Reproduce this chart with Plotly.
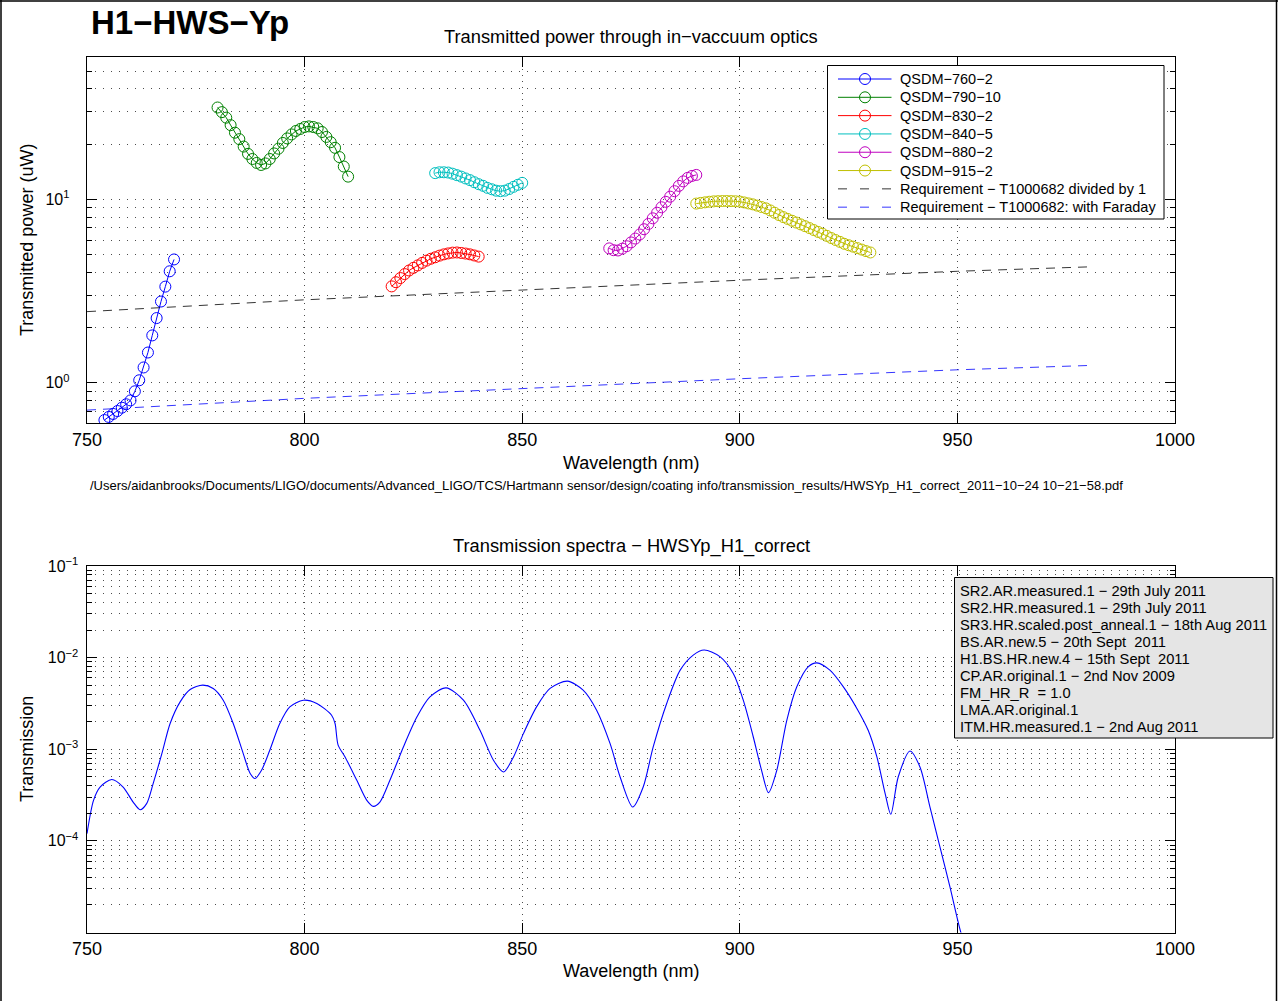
import math
import plotly.graph_objects as go

W, H = 1278, 1001

# ---------------- top panel: transmitted power (uW) ----------------
wl_760 = [754, 755, 756, 757, 758, 759, 760, 761, 762, 763, 764, 765, 766, 767, 768, 769, 770]
pw_760 = [0.625, 0.65, 0.675, 0.70, 0.73, 0.762, 0.80, 0.897, 1.03, 1.21, 1.46, 1.81, 2.25, 2.77, 3.34, 4.05, 4.70]

wl_790 = [780, 781, 782, 783, 784, 785, 786, 787, 788, 789, 790, 791, 792, 793, 794, 795,
          796, 797, 798, 799, 800, 801, 802, 803, 804, 805, 806, 807, 808, 809, 810]
pw_790 = [31.7, 29.9, 27.9, 25.4, 23.1, 21.3, 19.4, 17.7, 16.6, 15.8, 15.4, 15.7, 16.6, 17.8, 18.9, 20.3,
          21.5, 22.6, 23.6, 24.2, 24.8, 25.0, 24.8, 24.4, 23.3, 21.9, 20.5, 19.1, 17.0, 15.1, 13.3]

wl_830 = [820, 821, 822, 823, 824, 825, 826, 827, 828, 829, 830, 831, 832, 833, 834, 835, 836, 837, 838, 839, 840]
pw_830 = [3.35, 3.53, 3.72, 3.91, 4.09, 4.23, 4.36, 4.50, 4.63, 4.74, 4.83, 4.93, 5.01, 5.07, 5.12, 5.13,
          5.10, 5.06, 5.01, 4.94, 4.87]

wl_840 = [830, 831, 832, 833, 834, 835, 836, 837, 838, 839, 840, 841, 842, 843, 844, 845, 846, 847, 848, 849, 850]
pw_840 = [13.9, 14.05, 14.05, 14.0, 13.8, 13.55, 13.3, 13.0, 12.73, 12.4, 12.1, 11.85, 11.55, 11.35, 11.15,
          11.08, 11.15, 11.38, 11.7, 12.0, 12.3]

wl_880 = [870, 871, 872, 873, 874, 875, 876, 877, 878, 879, 880, 881, 882, 883, 884, 885, 886, 887, 888, 889, 890]
pw_880 = [5.40, 5.28, 5.26, 5.38, 5.55, 5.82, 6.11, 6.43, 6.87, 7.34, 7.88, 8.45, 9.05, 9.69, 10.34, 11.08,
          11.84, 12.53, 13.09, 13.42, 13.59]

wl_915 = [890, 891, 892, 893, 894, 895, 896, 897, 898, 899, 900, 901, 902, 903, 904, 905, 906, 907, 908, 909,
          910, 911, 912, 913, 914, 915, 916, 917, 918, 919, 920, 921, 922, 923, 924, 925, 926, 927, 928, 929, 930]
pw_915 = [9.48, 9.56, 9.63, 9.70, 9.75, 9.77, 9.79, 9.79, 9.78, 9.76, 9.72, 9.62, 9.50, 9.39, 9.24, 9.08, 8.93,
          8.70, 8.45, 8.21, 8.00, 7.82, 7.64, 7.47, 7.30, 7.14, 6.97, 6.80, 6.64, 6.49, 6.32, 6.15, 6.00, 5.86,
          5.72, 5.62, 5.52, 5.42, 5.32, 5.22, 5.13]

req_wl = [750, 800, 850, 900, 950, 980]
req_div1 = [2.44, 2.83, 3.20, 3.62, 4.05, 4.28]
req_faraday = [0.708, 0.821, 0.928, 1.05, 1.175, 1.24]

qsdm_names = ["QSDM−760−2", "QSDM−790−10", "QSDM−830−2", "QSDM−840−5", "QSDM−880−2", "QSDM−915−2"]
qsdm_colors = ["#0000ff", "#008000", "#ff0000", "#00bfbf", "#bf00bf", "#bfbf00"]
req_names = ["Requirement − T1000682 divided by 1", "Requirement − T1000682: with Faraday"]
req_colors = ["#000000", "#0000ff"]

# ---------------- bottom panel: transmission spectrum ----------------
spec_wl = [750, 751.5, 753, 755.7, 758.3, 760.6, 762.2, 763.7, 765.2, 767.2,
           769.1, 771.4, 773.7, 776.6, 779.0, 781.3, 783.6, 785.9, 787.5, 788.6,
           790.1, 792.0, 794.3, 796.6, 799.7, 802.8, 806.2, 807.0, 807.7, 809.3,
           812.0, 814.3, 815.8, 817.3, 819.6, 822.7, 825.8, 828.8, 832.5, 836.5,
           840.3, 843.4, 845.7, 848.0, 850.3, 853.3, 856.4, 860.4, 864.0, 867.1,
           870.2, 872.5, 875.4, 877.8, 880.1, 883.2, 886.3, 889.3, 891.8, 895.5,
           898.5, 900.8, 903.1, 905.0, 906.6, 908.5, 910.8, 913.1, 915.7, 917.7,
           920.7, 923.8, 926.9, 929.5, 931.5, 933.4, 934.7, 936.4, 939.1, 941.4,
           943.7, 946.0, 948.3, 950.8, 952.0]
spec_T = [1.20e-4, 2.77e-4, 3.87e-4, 4.67e-4, 3.87e-4, 2.65e-4, 2.19e-4, 2.55e-4, 4.22e-4, 8.97e-4,
          1.91e-3, 3.29e-3, 4.49e-3, 5.01e-3, 4.60e-3, 3.43e-3, 1.91e-3, 8.97e-4, 5.43e-4, 4.79e-4,
          5.89e-4, 9.75e-4, 1.91e-3, 2.90e-3, 3.43e-3, 3.16e-3, 2.35e-3, 1.91e-3, 1.11e-3, 8.24e-4,
          4.58e-4, 2.77e-4, 2.38e-4, 2.65e-4, 4.58e-4, 1.06e-3, 2.25e-3, 3.73e-3, 4.68e-3, 3.43e-3,
          1.61e-3, 7.59e-4, 5.65e-4, 8.24e-4, 1.49e-3, 2.90e-3, 4.61e-3, 5.54e-3, 4.42e-3, 2.67e-3,
          1.15e-3, 4.98e-4, 2.34e-4, 3.87e-4, 1.06e-3, 3.16e-3, 7.30e-3, 1.065e-2, 1.21e-2, 1.02e-2,
          6.72e-3, 3.43e-3, 1.36e-3, 5.89e-4, 3.36e-4, 5.89e-4, 2.07e-3, 4.80e-3, 7.93e-3, 8.77e-3,
          7.30e-3, 4.80e-3, 2.79e-3, 1.61e-3, 8.24e-4, 3.28e-4, 1.95e-4, 4.98e-4, 9.58e-4, 6.41e-4,
          2.34e-4, 8.55e-5, 3.13e-5, 1.0e-5, 7.0e-6]

spec_legend = ["SR2.AR.measured.1 − 29th July 2011",
               "SR2.HR.measured.1 − 29th July 2011",
               "SR3.HR.scaled.post_anneal.1 − 18th Aug 2011",
               "BS.AR.new.5 − 20th Sept  2011",
               "H1.BS.HR.new.4 − 15th Sept  2011",
               "CP.AR.original.1 − 2nd Nov 2009",
               "FM_HR_R  = 1.0",
               "LMA.AR.original.1",
               "ITM.HR.measured.1 − 2nd Aug 2011"]

x_ticks = [750, 800, 850, 900, 950, 1000]
top_major = [1, 10]
top_major_text = ["10<sup>0</sup>&nbsp;&nbsp;&nbsp;", "10<sup>1</sup>&nbsp;&nbsp;&nbsp;"]
bot_major = [1e-4, 1e-3, 1e-2, 1e-1]
bot_major_text = ["10<sup>−4</sup>&nbsp;", "10<sup>−3</sup>&nbsp;", "10<sup>−2</sup>&nbsp;",
                  "10<sup>−1</sup>&nbsp;"]

main_title = "H1−HWS−Yp"
top_title = "Transmitted power through in−vaccuum optics"
bot_title = "Transmission spectra − HWSYp_H1_correct"
x_label = "Wavelength (nm)"
top_ylabel = "Transmitted power (uW)"
bot_ylabel = "Transmission"
file_path = ("/Users/aidanbrooks/Documents/LIGO/documents/Advanced_LIGO/TCS/Hartmann sensor/design/"
             "coating info/transmission_results/HWSYp_H1_correct_2011−10−24 10−21−58.pdf")

FONT = "Liberation Sans, Arial, Helvetica, sans-serif"


def px(x):
    return x / W


def py(y):
    return 1 - y / H


fig = go.Figure()

for wl, pw, name, col in zip([wl_760, wl_790, wl_830, wl_840, wl_880, wl_915],
                             [pw_760, pw_790, pw_830, pw_840, pw_880, pw_915],
                             qsdm_names, qsdm_colors):
    fig.add_trace(go.Scatter(x=wl, y=pw, name=name, mode="lines+markers",
                             line=dict(color=col, width=1),
                             marker=dict(symbol="circle-open", size=11, color=col, line=dict(width=1)),
                             xaxis="x", yaxis="y", showlegend=False))
for vals, name, col in zip([req_div1, req_faraday], req_names, req_colors):
    fig.add_trace(go.Scatter(x=req_wl, y=vals, name=name, mode="lines",
                             line=dict(color=col, width=0.8, dash="9px,7px"),
                             xaxis="x", yaxis="y", showlegend=False))

fig.add_trace(go.Scatter(x=spec_wl, y=spec_T, mode="lines", name="Transmission",
                         line=dict(color="#0000ff", width=1.1, shape="spline", smoothing=0.8),
                         xaxis="x2", yaxis="y2", showlegend=False))

XDOM = [px(87), px(1175)]
GRIDC = "rgba(0,0,0,0.7)"


def xaxis(anchor):
    return dict(domain=XDOM, anchor=anchor, range=[750, 1000], tickmode="array", tickvals=x_ticks,
                ticktext=[str(v) for v in x_ticks], ticks="inside", ticklen=10, tickwidth=1,
                tickcolor="black", showline=True, linecolor="black", linewidth=1, mirror="allticks",
                showgrid=True, gridcolor=GRIDC, gridwidth=1, griddash="1px,5px", zeroline=False,
                tickfont=dict(size=18, color="black"), automargin=False)


top_minor = [m * d for d in [0.1, 1, 10] for m in range(2, 10) if 0.6 < m * d < 60]
bot_minor = [m * d for d in [1e-5, 1e-4, 1e-3, 1e-2] for m in range(2, 10)]


def yaxis(anchor, dom, rng, tv, tt, minor):
    return dict(domain=dom, anchor=anchor, type="log", range=rng, tickmode="array", tickvals=tv,
                ticktext=tt, ticks="inside", ticklen=10, tickwidth=1, tickcolor="black",
                showline=True, linecolor="black", linewidth=1, mirror="allticks",
                showgrid=True, gridcolor=GRIDC, gridwidth=1, griddash="1px,7px", zeroline=False,
                tickfont=dict(size=16, color="black"), automargin=False,
                minor=dict(tickmode="array", tickvals=minor, ticks="inside", ticklen=5,
                           tickcolor="black", showgrid=True, gridcolor=GRIDC, gridwidth=1,
                           griddash="1px,7px"))


fig.update_layout(
    width=W, height=H, margin=dict(l=0, r=0, t=0, b=0),
    paper_bgcolor="white", plot_bgcolor="white",
    font=dict(family=FONT, color="black"),
    showlegend=False,
    xaxis=xaxis("y"),
    yaxis=yaxis("x", [py(423.3), py(56.7)], [math.log10(0.6), math.log10(60)],
                top_major, top_major_text, top_minor),
    xaxis2=xaxis("y2"),
    yaxis2=yaxis("x2", [py(932.5), py(566)], [-5, -1], bot_major, bot_major_text, bot_minor),
)

ann = []
shapes = []


def text(x, y, s, size, xanchor="center", bold=False, angle=0, fam=FONT):
    ann.append(dict(x=px(x), y=py(y), xref="paper", yref="paper", text=("<b>%s</b>" % s) if bold else s,
                    showarrow=False, xanchor=xanchor, yanchor="middle", textangle=angle,
                    font=dict(size=size, family=fam, color="black")))


text(89, 22, main_title, 33, xanchor="left", bold=True)
text(631, 36, top_title, 18.3)
text(631, 463, x_label, 18)
text(27, 240, top_ylabel, 18, angle=-90)
text(88, 485, file_path, 13, xanchor="left")
text(631, 546, bot_title, 18.3)
text(631, 971, x_label, 18)
text(27, 749, bot_ylabel, 18, angle=-90)

# ---- legend of top panel (drawn as a box) ----
shapes.append(dict(type="rect", xref="paper", yref="paper", x0=px(827.5), x1=px(1164), y0=py(219),
                   y1=py(65.5), line=dict(color="black", width=1), fillcolor="white", layer="above"))
entries = list(zip(qsdm_names, qsdm_colors, [True] * 6)) + list(zip(req_names, req_colors, [False] * 2))
for i, (name, col, marker) in enumerate(entries):
    yc = 79 + 18.31 * i
    shapes.append(dict(type="line", xref="paper", yref="paper", x0=px(838), x1=px(891.5), y0=py(yc),
                       y1=py(yc), layer="above",
                       line=dict(color=col, width=1 if marker else 0.8,
                                 dash="solid" if marker else "9px,13px")))
    if marker:
        shapes.append(dict(type="circle", xref="paper", yref="paper", xsizemode="pixel",
                           ysizemode="pixel", xanchor=px(865), yanchor=py(yc), x0=-5.5, x1=5.5,
                           y0=-5.5, y1=5.5, line=dict(color=col, width=1), fillcolor="rgba(0,0,0,0)",
                           layer="above"))
    text(897.5, yc, name, 14.5, xanchor="left")

# ---- legend of bottom panel ----
shapes.append(dict(type="rect", xref="paper", yref="paper", x0=px(954.5), x1=px(1273), y0=py(738),
                   y1=py(577.5), line=dict(color="black", width=1), fillcolor="#e5e5e5", layer="above"))
for i, s in enumerate(spec_legend):
    text(957.5, 591 + 17.06 * i, s, 14.7, xanchor="left")

# ---- figure frame ----
for (x0, y0, x1, y1) in [(1, 0, 1, H), (0, 1, W, 1), (1276.5, 0, 1276.5, H)]:
    shapes.append(dict(type="line", xref="paper", yref="paper", x0=px(x0), x1=px(x1), y0=py(y0),
                       y1=py(y1), line=dict(color="black", width=1.5), layer="above"))

fig.update_layout(annotations=ann, shapes=shapes)
fig.write_html("out.html")
